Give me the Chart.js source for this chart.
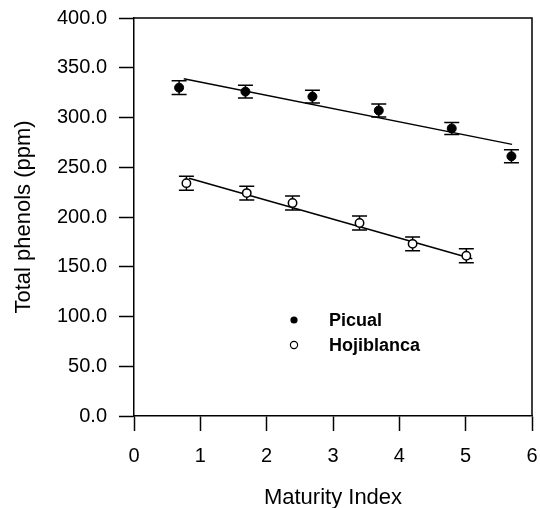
<!DOCTYPE html>
<html>
<head>
<meta charset="utf-8">
<script src="https://cdn.jsdelivr.net/npm/chart.js@4/dist/chart.umd.min.js"></script>
<style>
  html, body { margin: 0; padding: 0; background: #fff; }
  #wrap { width: 540px; height: 508px; position: relative; }
</style>
</head>
<body>
<div id="wrap"><canvas id="myChart"></canvas></div>
<script>
'use strict';

// values
var picualX = [0.68, 1.68, 2.69, 3.69, 4.79, 5.69];
var picualY = [330, 326, 321, 307, 289, 261];
var picualErr = [7, 6.5, 6.5, 6.5, 6, 6.5];

var hojiX = [0.79, 1.70, 2.39, 3.40, 4.20, 5.01];
var hojiY = [234, 224, 214, 194, 173, 161];
var hojiErr = [7, 7, 7, 7, 7, 7];

// regression line end points
var picualFitX = [0.75, 5.70];
var picualFitY = [339, 273];
var hojiFitX = [0.83, 5.10];
var hojiFitY = [239, 158];

var legendLabels = ['Picual', 'Hojiblanca'];

var FONT = 'Arial, "Liberation Sans", Helvetica, sans-serif';

function toPoints(xs, ys) {
    return xs.map(function (x, i) { return { x: x, y: ys[i] }; });
}

// error bars, drawn through the chart scales
var errorBars = {
    id: 'errorBars',
    beforeDatasetsDraw: function (chart) {
        var ctx = chart.ctx;
        var xs = chart.scales.x, ys = chart.scales.y;
        var sets = [[picualX, picualY, picualErr], [hojiX, hojiY, hojiErr]];
        ctx.save();
        ctx.strokeStyle = '#000';
        ctx.lineWidth = 1.5;
        sets.forEach(function (s) {
            s[0].forEach(function (x, i) {
                var px = xs.getPixelForValue(x);
                var top = ys.getPixelForValue(s[1][i] + s[2][i]);
                var bot = ys.getPixelForValue(s[1][i] - s[2][i]);
                ctx.beginPath();
                ctx.moveTo(px, top); ctx.lineTo(px, bot);
                ctx.moveTo(px - 7.5, top); ctx.lineTo(px + 7.5, top);
                ctx.moveTo(px - 7.5, bot); ctx.lineTo(px + 7.5, bot);
                ctx.stroke();
            });
        });
        ctx.restore();
    }
};

// frame on top/right plus the legend inside the plot
var frameAndLegend = {
    id: 'frameAndLegend',
    afterDraw: function (chart) {
        var ctx = chart.ctx, a = chart.chartArea;
        ctx.save();
        ctx.strokeStyle = '#000';
        ctx.lineWidth = 1.5;
        ctx.beginPath();
        ctx.moveTo(a.left, a.top); ctx.lineTo(a.right, a.top); ctx.lineTo(a.right, a.bottom);
        ctx.stroke();

        var lx = a.left + 160, ly = a.top + 302;
        ctx.font = 'bold 18px ' + FONT;
        ctx.textBaseline = 'middle';
        ctx.fillStyle = '#000';
        legendLabels.forEach(function (t, i) {
            var y = ly + i * 25;
            ctx.beginPath();
            ctx.arc(lx, y, 3.6, 0, Math.PI * 2);
            if (i === 0) { ctx.fill(); }
            else { ctx.lineWidth = 1.2; ctx.fillStyle = '#fff'; ctx.fill(); ctx.stroke(); ctx.fillStyle = '#000'; }
            ctx.fillText(t, lx + 35, y + 1);
        });
        ctx.restore();
    }
};

var ctx = document.getElementById('myChart');
var myChart = new Chart(ctx, {
    type: 'scatter',
    data: {
        datasets: [
            {
                label: 'Picual',
                data: toPoints(picualX, picualY),
                backgroundColor: '#000',
                borderColor: '#000',
                pointRadius: 4.5,
                order: 1
            },
            {
                label: 'Hojiblanca',
                data: toPoints(hojiX, hojiY),
                backgroundColor: '#fff',
                borderColor: '#000',
                borderWidth: 1.5,
                pointRadius: 4.2,
                order: 1
            },
            {
                type: 'line',
                label: 'Picual fit',
                data: toPoints(picualFitX, picualFitY),
                borderColor: '#000',
                borderWidth: 1.5,
                pointRadius: 0,
                fill: false,
                order: 2
            },
            {
                type: 'line',
                label: 'Hojiblanca fit',
                data: toPoints(hojiFitX, hojiFitY),
                borderColor: '#000',
                borderWidth: 1.5,
                pointRadius: 0,
                fill: false,
                order: 2
            }
        ]
    },
    options: {
        responsive: true,
        maintainAspectRatio: false,
        animation: false,
        layout: { padding: { top: 18, right: 8, left: 0, bottom: 0 } },
        plugins: {
            legend: { display: false },
            tooltip: { enabled: false }
        },
        scales: {
            x: {
                type: 'linear',
                min: 0, max: 6,
                ticks: {
                    stepSize: 1,
                    color: '#000',
                    padding: 13,
                    maxRotation: 0,
                    font: { family: FONT, size: 20 }
                },
                grid: {
                    drawOnChartArea: false,
                    tickLength: 15,
                    tickColor: '#000',
                    tickWidth: 1.5
                },
                border: { display: true, color: '#000', width: 1.5 },
                title: {
                    display: true,
                    text: 'Maturity Index',
                    color: '#000',
                    font: { family: FONT, size: 22 },
                    padding: { top: 0, bottom: -3 }
                },
                afterFit: function (scale) {
                    scale.height = 92;
                    scale.paddingLeft = 0;
                    scale.paddingRight = 0;
                }
            },
            y: {
                type: 'linear',
                min: 0, max: 400,
                ticks: {
                    stepSize: 50,
                    color: '#000',
                    padding: 12,
                    font: { family: FONT, size: 20 },
                    callback: function (v) { return v.toFixed(1); }
                },
                grid: {
                    drawOnChartArea: false,
                    tickLength: 15,
                    tickColor: '#000',
                    tickWidth: 1.5
                },
                border: { display: true, color: '#000', width: 1.5 },
                title: {
                    display: true,
                    text: 'Total phenols (ppm)',
                    color: '#000',
                    font: { family: FONT, size: 22 },
                    padding: { top: 11, bottom: 0 }
                },
                afterFit: function (scale) {
                    scale.width = 134;
                    scale.paddingTop = 0;
                    scale.paddingBottom = 0;
                }
            }
        }
    },
    plugins: [errorBars, frameAndLegend]
});
</script>
</body>
</html>
